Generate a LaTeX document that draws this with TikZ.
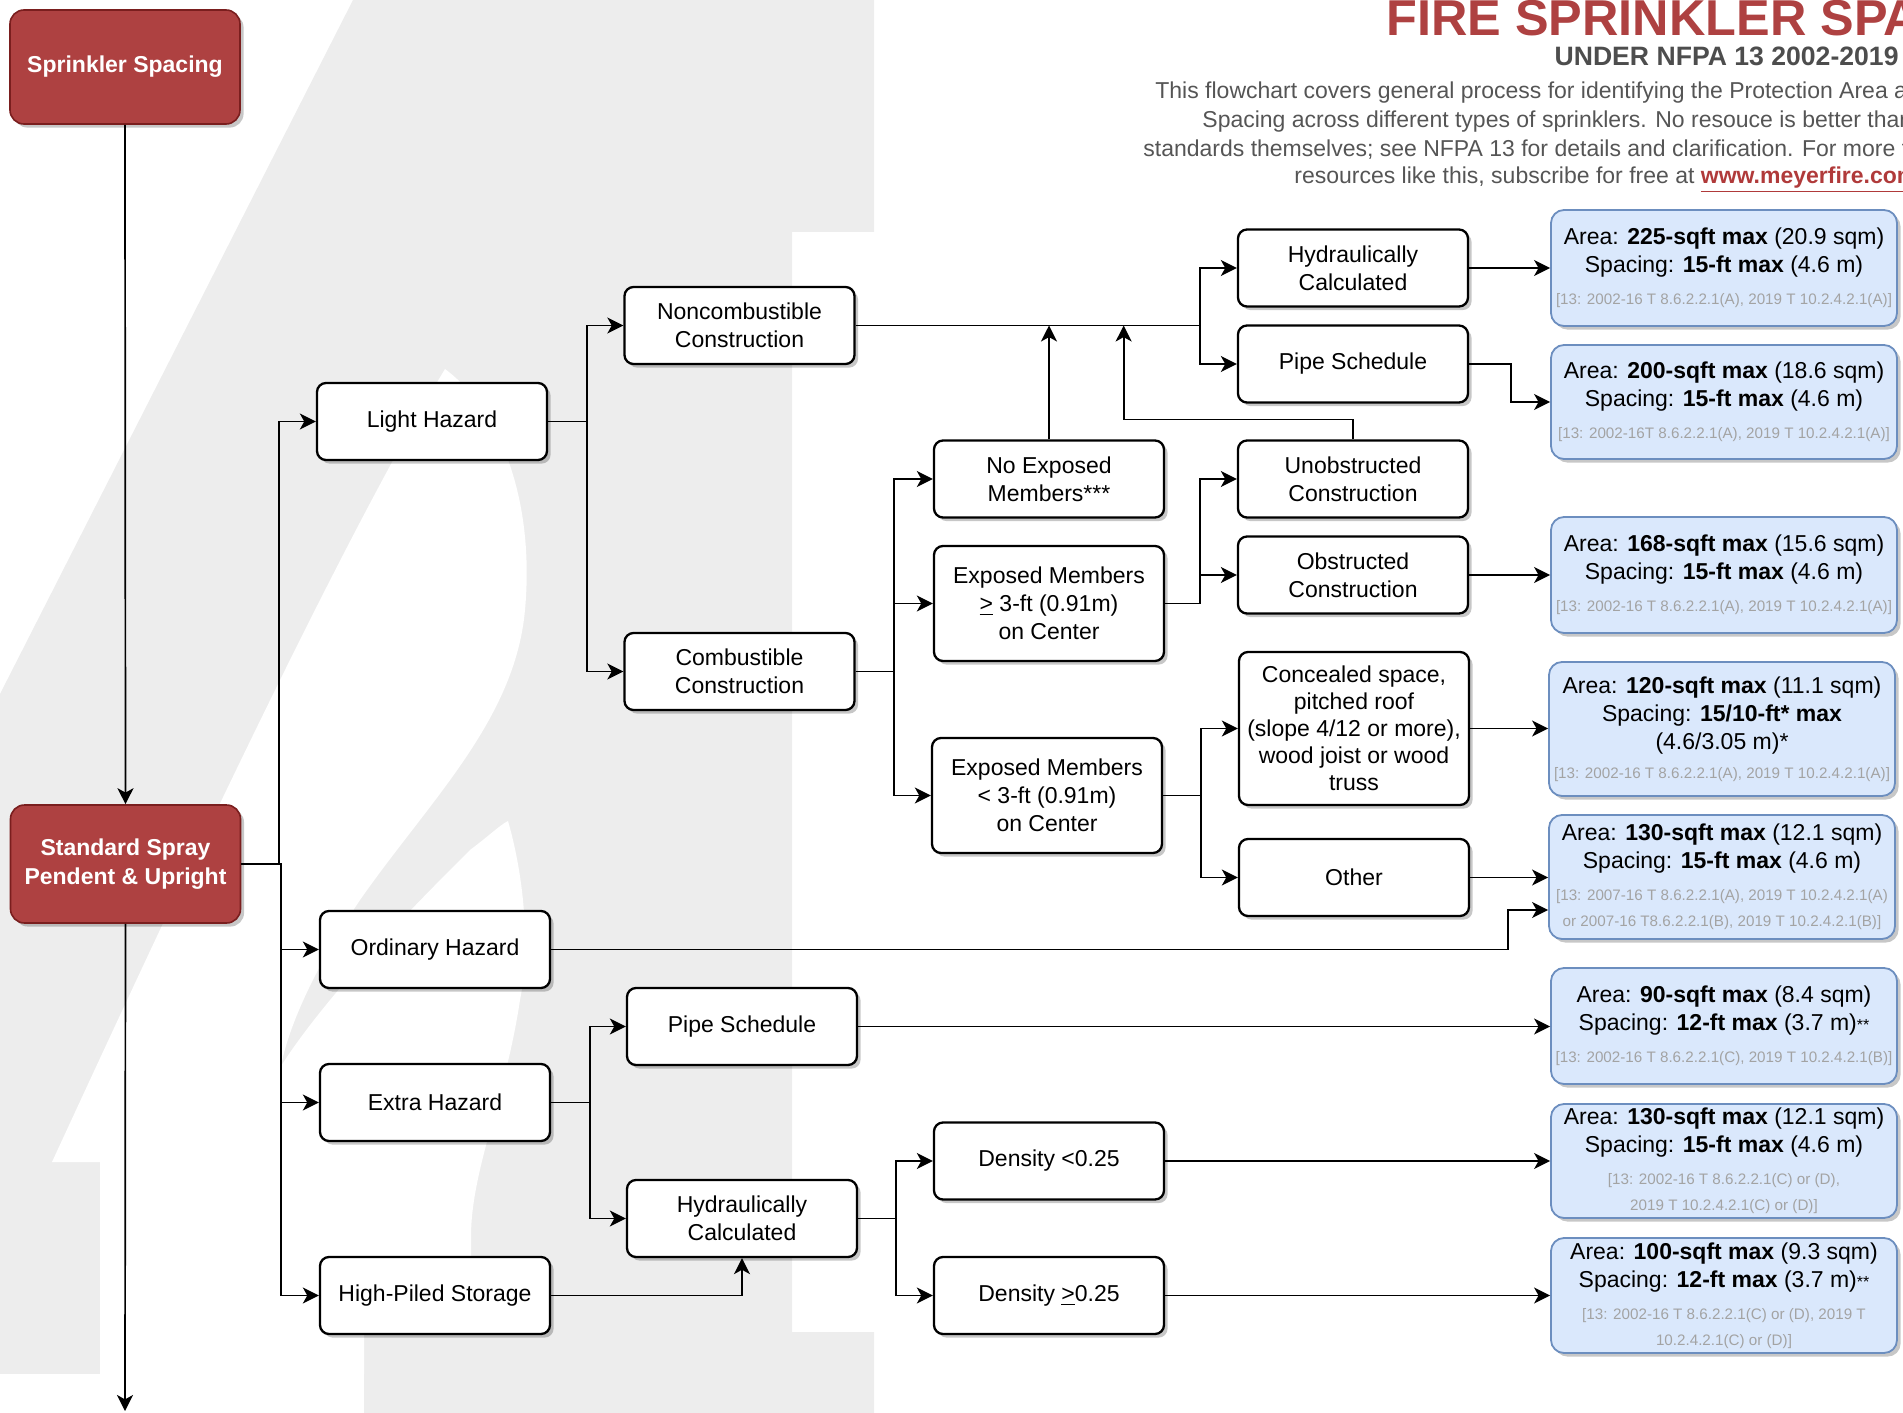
\documentclass[tikz,border=0pt]{standalone}
\usepackage{fontspec}
\setmainfont{Liberation Sans}
\usetikzlibrary{arrows.meta,shadows,calc}
\definecolor{fireRed}{HTML}{AE4141}
\definecolor{fireStroke}{HTML}{7A1E1E}
\definecolor{blueFill}{HTML}{DAE8FC}
\definecolor{blueStroke}{HTML}{6C8EBF}
\definecolor{bgGray}{HTML}{EDEDED}
\definecolor{refGray}{HTML}{A3A3A3}
\definecolor{descGray}{HTML}{555555}
\definecolor{subGray}{HTML}{4D4D4D}
\definecolor{linkRed}{HTML}{B03A3A}
\newcommand{\rtxt}[1]{{\color{refGray}\fontsize{7.6}{13.5}\selectfont #1}}
\newcommand{\smallstars}{{\fontsize{8}{13.5}\selectfont **}}
\begin{document}
\begin{tikzpicture}[x=0.5pt,y=-0.5pt,
  shad/.style={drop shadow={shadow xshift=1.8pt,shadow yshift=-1.8pt,fill=black,opacity=0.22}},
  wbox/.style={shad, draw=black, fill=white, rounded corners=4.5pt, line width=1.15pt,
    minimum width=115pt, minimum height=38.5pt, align=center, inner sep=1pt,
    font=\fontsize{11.5}{14}\selectfont},
  rbox/.style={shad, draw=fireStroke, fill=fireRed, text=white, rounded corners=7pt, line width=0.8pt,
    minimum width=115pt, align=center, inner sep=1pt,
    font=\bfseries\fontsize{11.5}{14.5}\selectfont},
  bbox/.style={shad, draw=blueStroke, fill=blueFill, rounded corners=6.5pt, line width=0.9pt,
    minimum width=173pt, align=center, inner sep=1pt,
    font=\fontsize{11.5}{14}\selectfont},
  conn/.style={line width=0.85pt, draw=black},
  arr/.style={conn, -{Stealth[length=8pt,width=8pt,inset=2.2pt]}},
]
\useasboundingbox (0,0) rectangle (1903,1413);
\clip (0,0) rectangle (1903,1413);
% background watermark
\fill[bgGray] (353,0) -- (874,0) -- (874,232) -- (792,232) -- (792,1332) -- (874,1332) -- (874,1413) -- (0,1413) -- (0,694) -- cycle;
\fill[white] (0,1374) rectangle (364,1413);
\fill[white] (445,369)
  .. controls (500,410) and (535,500) .. (525,610)
  .. controls (515,720) and (430,800) .. (360,900)
  .. controls (320,960) and (290,1020) .. (281,1066)
  .. controls (330,990) and (420,900) .. (470,850)
  .. controls (490,835) and (500,825) .. (508,821)
  .. controls (525,880) and (530,950) .. (520,1000)
  .. controls (505,1100) and (471,1170) .. (471,1237)
  -- (471,1303) -- (364,1303) -- (364,1374) -- (100,1374) -- (100,1162) -- (52,1162)
  .. controls (150,950) and (330,560) .. (445,369) -- cycle;

% title
\node[anchor=base west, inner sep=0, text=fireRed, font=\bfseries\fontsize{25.2}{30}\selectfont] (title) at (1386,36) {FIRE SPRINKLER SPACING};
\node[anchor=base east, inner sep=0, text=subGray, font=\bfseries\fontsize{13.3}{16}\selectfont] (subtitle) at (1899,66) {UNDER NFPA 13 2002-2019};
\node[anchor=base west, inner sep=0, text=descGray, font=\fontsize{11.5}{14}\selectfont] (d1) at (1155,99) {This flowchart covers general process for identifying the Protection Area and};
\node[anchor=base west, inner sep=0, text=descGray, font=\fontsize{11.5}{14}\selectfont] (d2) at (1202,128) {Spacing across different types of sprinklers. No resouce is better than the};
\node[anchor=base west, inner sep=0, text=descGray, font=\fontsize{11.5}{14}\selectfont] (d3) at (1143,156) {standards themselves; see NFPA 13 for details and clarification. For more free};
\node[anchor=base west, inner sep=0, text=descGray, font=\fontsize{11.5}{14}\selectfont] (d4) at (1294,184) {resources like this, subscribe for free at \textcolor{linkRed}{\bfseries\underline{www.meyerfire.com}}};

% red nodes
\node[rbox, minimum height=57pt] (sprink) at (125,67) {Sprinkler Spacing};
\node[rbox, minimum height=59pt] (std) at (125.5,864) {Standard Spray\\Pendent \& Upright};

% white nodes
\node[wbox] (light) at (432,421.5) {Light Hazard};
\node[wbox] (ordinary) at (435,949.5) {Ordinary Hazard};
\node[wbox] (extra) at (435,1102.5) {Extra Hazard};
\node[wbox] (highpiled) at (435,1295.5) {High-Piled Storage};
\node[wbox] (noncomb) at (739.5,325.5) {Noncombustible\\Construction};
\node[wbox] (comb) at (739.5,671.5) {Combustible\\Construction};
\node[wbox] (pipetwo) at (742,1026.5) {Pipe Schedule};
\node[wbox] (hydrotwo) at (742,1218.5) {Hydraulically\\Calculated};
\node[wbox] (hydroone) at (1353,268) {Hydraulically\\Calculated};
\node[wbox] (pipeone) at (1353,364) {Pipe Schedule};
\node[wbox] (noexp) at (1049,479) {No Exposed\\Members***};
\node[wbox, minimum height=57.5pt] (expge) at (1049,603.5) {Exposed Members\\\underline{>} 3-ft (0.91m)\\on Center};
\node[wbox, minimum height=57.5pt] (explt) at (1047,795.5) {Exposed Members\\< 3-ft (0.91m)\\on Center};
\node[wbox] (unob) at (1353,479) {Unobstructed\\Construction};
\node[wbox] (obst) at (1353,575) {Obstructed\\Construction};
\node[wbox, minimum height=76.5pt, font=\fontsize{11.5}{13.5}\selectfont] (conc) at (1354,728.5) {Concealed space,\\pitched roof\\(slope 4/12 or more),\\wood joist or wood\\truss};
\node[wbox] (other) at (1354,877.5) {Other};
\node[wbox] (densa) at (1049,1161) {Density <0.25};
\node[wbox] (densb) at (1049,1295.5) {Density \underline{>}0.25};

% blue result nodes
\node[bbox, minimum height=58pt] (bone) at (1724,268) {Area: \textbf{225-sqft max} (20.9 sqm)\\Spacing: \textbf{15-ft max} (4.6 m)\\[1.8pt]\rtxt{[13: 2002-16 T 8.6.2.2.1(A), 2019 T 10.2.4.2.1(A)]}};
\node[bbox, minimum height=57pt] (btwo) at (1724,402) {Area: \textbf{200-sqft max} (18.6 sqm)\\Spacing: \textbf{15-ft max} (4.6 m)\\[1.8pt]\rtxt{[13: 2002-16T 8.6.2.2.1(A), 2019 T 10.2.4.2.1(A)]}};
\node[bbox, minimum height=58pt] (bthree) at (1724,575) {Area: \textbf{168-sqft max} (15.6 sqm)\\Spacing: \textbf{15-ft max} (4.6 m)\\[1.8pt]\rtxt{[13: 2002-16 T 8.6.2.2.1(A), 2019 T 10.2.4.2.1(A)]}};
\node[bbox, minimum height=67pt] (bfour) at (1722,729) {Area: \textbf{120-sqft max} (11.1 sqm)\\Spacing: \textbf{15/10-ft* max}\\(4.6/3.05 m)*\\[0.5pt]\rtxt{[13: 2002-16 T 8.6.2.2.1(A), 2019 T 10.2.4.2.1(A)]}};
\node[bbox, minimum height=62pt] (bfive) at (1722,877) {Area: \textbf{130-sqft max} (12.1 sqm)\\Spacing: \textbf{15-ft max} (4.6 m)\\[1.8pt]\rtxt{[13: 2007-16 T 8.6.2.2.1(A), 2019 T 10.2.4.2.1(A)}\\[-1pt]\rtxt{or 2007-16 T8.6.2.2.1(B), 2019 T 10.2.4.2.1(B)]}};
\node[bbox, minimum height=58pt] (bsix) at (1724,1026) {Area: \textbf{90-sqft max} (8.4 sqm)\\Spacing: \textbf{12-ft max} (3.7 m)\smallstars\\[1.8pt]\rtxt{[13: 2002-16 T 8.6.2.2.1(C), 2019 T 10.2.4.2.1(B)]}};
\node[bbox, minimum height=57pt] (bseven) at (1724,1161) {Area: \textbf{130-sqft max} (12.1 sqm)\\Spacing: \textbf{15-ft max} (4.6 m)\\[1.8pt]\rtxt{[13: 2002-16 T 8.6.2.2.1(C) or (D),}\\[-1pt]\rtxt{2019 T 10.2.4.2.1(C) or (D)]}};
\node[bbox, minimum height=57.5pt] (beight) at (1724,1295.5) {Area: \textbf{100-sqft max} (9.3 sqm)\\Spacing: \textbf{12-ft max} (3.7 m)\smallstars\\[1.8pt]\rtxt{[13: 2002-16 T 8.6.2.2.1(C) or (D), 2019 T}\\[-1pt]\rtxt{10.2.4.2.1(C) or (D)]}};

% connectors
\coordinate (bottomend) at (125,1411);
\draw[arr] (sprink.south) -- (std.north);
\draw[arr] (std.south) -- (bottomend);
\draw[arr] (std.east) -- ++(38,0) |- (light.west);
\draw[arr] (std.east) -- ++(40,0) |- (ordinary.west);
\draw[arr] (std.east) -- ++(40,0) |- (extra.west);
\draw[arr] (std.east) -- ++(40,0) |- (highpiled.west);
\draw[arr] (light.east) -- ++(39,0) |- (noncomb.west);
\draw[arr] (light.east) -- ++(39,0) |- (comb.west);
\draw[arr] (noncomb.east) -- ++(344,0) |- (hydroone.west);
\draw[arr] (noncomb.east) -- ++(344,0) |- (pipeone.west);
\draw[arr] (noexp.north) -- (noexp.north |- noncomb.east);
\coordinate (upjoin) at ($(noncomb.east)+(268,0)$);
\draw[arr] (unob.north) -- ++(0,-20) -| (upjoin);
\draw[arr] (comb.east) -- ++(38,0) |- (noexp.west);
\draw[arr] (comb.east) -- ++(38,0) |- (expge.west);
\draw[arr] (comb.east) -- ++(38,0) |- (explt.west);
\draw[arr] (expge.east) -- ++(35,0) |- (unob.west);
\draw[arr] (expge.east) -- ++(35,0) |- (obst.west);
\draw[arr] (explt.east) -- ++(38,0) |- (conc.west);
\draw[arr] (explt.east) -- ++(38,0) |- (other.west);
\draw[arr] (hydroone.east) -- (hydroone.east -| bone.west);
\draw[arr] (pipeone.east) -- ++(42,0) |- (btwo.west);
\draw[arr] (obst.east) -- (obst.east -| bthree.west);
\draw[arr] (conc.east) -- (conc.east -| bfour.west);
\draw[arr] (other.east) -- (other.east -| bfive.west);
\coordinate (ordin) at ($(bfive.west)+(0,33)$);
\draw[arr] (ordinary.east) -- ++(957,0) |- (ordin);
\draw[arr] (extra.east) -- ++(39,0) |- (pipetwo.west);
\draw[arr] (extra.east) -- ++(39,0) |- (hydrotwo.west);
\draw[arr] (highpiled.east) -| (hydrotwo.south);
\draw[arr] (hydrotwo.east) -- ++(38,0) |- (densa.west);
\draw[arr] (hydrotwo.east) -- ++(38,0) |- (densb.west);
\draw[arr] (pipetwo.east) -- (pipetwo.east -| bsix.west);
\draw[arr] (densa.east) -- (densa.east -| bseven.west);
\draw[arr] (densb.east) -- (densb.east -| beight.west);
\end{tikzpicture}
\end{document}
